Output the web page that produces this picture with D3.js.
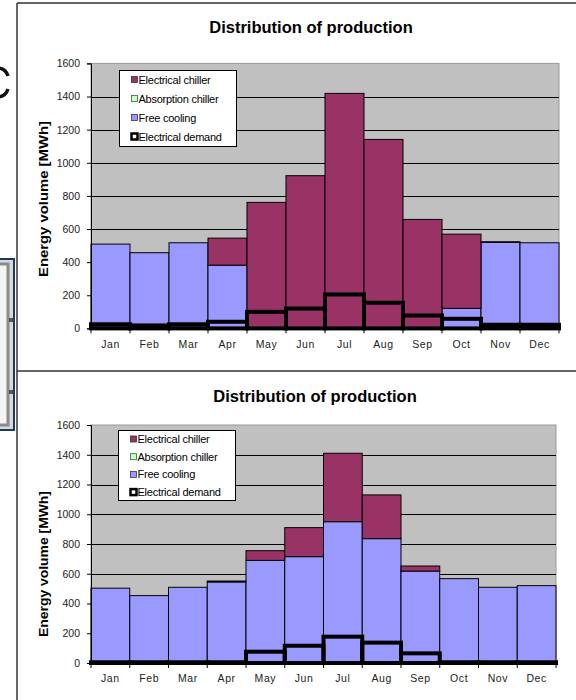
<!DOCTYPE html>
<html>
<head>
<meta charset="utf-8">
<script src="https://cdn.jsdelivr.net/npm/d3@7"></script>
<style>
  html, body { margin: 0; padding: 0; background: #fff; }
  svg { display: block; }
  text { font-family: "Liberation Sans", Arial, sans-serif; }
</style>
</head>
<body>
<svg id="page" width="576" height="700"></svg>
<script>
// Monthly categories
const months = ["Jan", "Feb", "Mar", "Apr", "May", "Jun", "Jul", "Aug", "Sep", "Oct", "Nov", "Dec"];
const yTicks = [0, 200, 400, 600, 800, 1000, 1200, 1400, 1600];
const seriesNames = ["Electrical chiller", "Absorption chiller", "Free cooling", "Electrical demand"];

// Scenario A (upper chart), MWh per month
const aFreeCooling = [509, 457, 517, 382, 0, 0, 0, 0, 0, 121, 520, 517];
const aAbsorption  = [0, 0, 0, 0, 0, 0, 0, 0, 0, 0, 0, 0];
const aElecChiller = [0, 0, 0, 163, 761, 922, 1419, 1141, 658, 448, 3, 0];
const aElecDemand  = [25, 18, 25, 40, 100, 120, 205, 155, 78, 58, 22, 22];

// Scenario B (lower chart), MWh per month
const bFreeCooling = [503, 453, 509, 545, 690, 715, 950, 836, 618, 567, 509, 520];
const bAbsorption  = [0, 0, 0, 0, 0, 0, 0, 0, 0, 0, 0, 0];
const bElecChiller = [0, 0, 0, 6, 65, 195, 460, 294, 34, 0, 0, 0];
const bElecDemand  = [5, 5, 5, 5, 76, 116, 177, 137, 65, 5, 5, 5];

const colors = {
  chiller: "#993366",
  absorption: "#CCFFCC",
  free: "#9999FF",
  plot: "#C0C0C0"
};

const svg = d3.select("#page");

// Fragments of the slide behind the charts
svg.append("path")
  .attr("d", "M 8,76 C 6,70 2,68 -3,68 M 8,89 C 6,95 2,97 -3,97")
  .attr("fill", "none").attr("stroke", "#111").attr("stroke-width", 3.5);
svg.append("rect").attr("x", -4).attr("y", 259).attr("width", 18).attr("height", 171)
  .attr("fill", "#d8d8d8").attr("stroke", "#1d3b5e").attr("stroke-width", 2);
svg.append("rect").attr("x", -4).attr("y", 264).attr("width", 12).attr("height", 161)
  .attr("fill", "#f4f4f4").attr("stroke", "#8a8a8a").attr("stroke-width", 3);
[320, 392].forEach(yy => svg.append("rect").attr("x", 9).attr("y", yy - 2)
  .attr("width", 4).attr("height", 4).attr("fill", "#555"));

// Panel frames
svg.append("g").attr("stroke", "#333").attr("stroke-width", 1.5).attr("fill", "none")
  .selectAll("line")
  .data([[17, 3, 576, 3], [17, 3, 17, 700], [17, 371, 576, 371]])
  .join("line")
  .attr("x1", d => d[0]).attr("y1", d => d[1]).attr("x2", d => d[2]).attr("y2", d => d[3]);

function drawChart(cfg) {
  const g = svg.append("g");
  const x = d3.scaleBand().domain(months).range([cfg.left, cfg.right]).padding(0);
  const y = d3.scaleLinear().domain([0, 1600]).range([cfg.bottom, cfg.top]);

  // Title
  g.append("text").attr("x", cfg.titleX).attr("y", cfg.titleY)
    .attr("text-anchor", "middle").attr("font-size", 16.5).attr("font-weight", "bold")
    .attr("fill", "#000").text("Distribution of production");

  // Plot area and grid
  g.append("rect").attr("x", cfg.left).attr("y", cfg.top)
    .attr("width", cfg.right - cfg.left).attr("height", cfg.bottom - cfg.top)
    .attr("fill", colors.plot).attr("stroke", "#9a9a9a").attr("stroke-width", 1);
  g.append("g").selectAll("line")
    .data(yTicks.filter(v => v > 0 && v < 1600))
    .join("line")
    .attr("x1", cfg.left).attr("x2", cfg.right)
    .attr("y1", d => Math.round(y(d)) + 0.5).attr("y2", d => Math.round(y(d)) + 0.5)
    .attr("stroke", "#000").attr("stroke-width", 1);

  // Stacked production bars: free cooling, absorption chiller, electrical chiller
  const rows = months.map((m, i) => ({
    month: m,
    free: cfg.free[i],
    absorption: cfg.absorption[i],
    chiller: cfg.chiller[i]
  }));
  const keys = ["free", "absorption", "chiller"];
  const stack = d3.stack().keys(keys)(rows);
  g.append("g").selectAll("g")
    .data(stack)
    .join("g")
    .attr("fill", d => colors[d.key])
    .selectAll("rect")
    .data(d => d.filter(p => p[1] > p[0]))
    .join("rect")
    .attr("x", p => x(p.data.month))
    .attr("width", x.bandwidth())
    .attr("y", p => y(p[1]))
    .attr("height", p => y(p[0]) - y(p[1]))
    .attr("stroke", "#000").attr("stroke-width", 1);

  // Electrical demand: outlined bars
  g.append("g").selectAll("rect")
    .data(cfg.demand.map((v, i) => ({ month: months[i], v })))
    .join("rect")
    .attr("x", d => x(d.month))
    .attr("width", x.bandwidth())
    .attr("y", d => y(d.v))
    .attr("height", d => y(0) - y(d.v))
    .attr("fill", "none").attr("stroke", "#000").attr("stroke-width", 4);

  // Y axis
  const yAxis = g.append("g").attr("transform", `translate(${cfg.left},0)`)
    .call(d3.axisLeft(y).tickValues(yTicks).tickSize(4).tickPadding(7).tickFormat(d3.format("d")));
  yAxis.select(".domain").attr("stroke", "#000");
  yAxis.selectAll(".tick line").attr("stroke", "#000");
  yAxis.selectAll("text").attr("font-size", 10.5).attr("fill", "#222")
    .attr("font-family", "'Liberation Sans', Arial, sans-serif");

  // X axis: labels centred in each month, ticks on month boundaries
  const xAxis = g.append("g").attr("transform", `translate(0,${cfg.bottom})`)
    .call(d3.axisBottom(x).tickSize(0).tickPadding(12));
  xAxis.select(".domain").remove();
  xAxis.selectAll("text").attr("font-size", 10.5).attr("fill", "#222")
    .attr("letter-spacing", 0.6)
    .attr("font-family", "'Liberation Sans', Arial, sans-serif");
  g.append("line").attr("x1", cfg.left).attr("x2", cfg.right)
    .attr("y1", cfg.bottom).attr("y2", cfg.bottom).attr("stroke", "#000");
  g.append("g").selectAll("line")
    .data(months.map(m => x(m)).concat([cfg.right]))
    .join("line")
    .attr("x1", d => d).attr("x2", d => d)
    .attr("y1", cfg.bottom).attr("y2", cfg.bottom + 5)
    .attr("stroke", "#000");

  // Y axis title
  g.append("text")
    .attr("transform", `translate(${cfg.yTitleX},${cfg.yTitleY}) rotate(-90)`)
    .attr("text-anchor", "middle").attr("font-size", 12.5).attr("font-weight", "bold")
    .attr("textLength", cfg.yTitleLen).attr("lengthAdjust", "spacingAndGlyphs")
    .attr("fill", "#000").text("Energy volume [MWh]");

  // Legend
  const lg = g.append("g");
  lg.append("rect").attr("x", cfg.legX).attr("y", cfg.legY)
    .attr("width", 117).attr("height", cfg.legH)
    .attr("fill", "#fff").attr("stroke", "#000").attr("stroke-width", 1);
  const legFill = [colors.chiller, colors.absorption, colors.free, "#fff"];
  const legStroke = ["#333", "#336633", "#333366", "#000"];
  const legWidth = [0.8, 0.8, 0.8, 2.5];
  const item = lg.selectAll("g.item")
    .data(seriesNames)
    .join("g").attr("class", "item")
    .attr("transform", (d, i) => `translate(${cfg.legX + 12},${cfg.legY + cfg.legRow0 + i * cfg.legStep})`);
  item.append("rect")
    .attr("x", 0).attr("y", -3).attr("width", 6).attr("height", 6)
    .attr("fill", (d, i) => legFill[i]).attr("stroke", (d, i) => legStroke[i])
    .attr("stroke-width", (d, i) => legWidth[i]);
  item.append("text")
    .attr("x", 7).attr("y", 4).attr("font-size", 11).attr("fill", "#000")
    .attr("letter-spacing", -0.25)
    .text(d => d);
}

drawChart({
  left: 91, right: 559, top: 63.4, bottom: 328.4,
  titleX: 311, titleY: 33,
  yTitleX: 47.5, yTitleY: 199, yTitleLen: 156,
  legX: 119.5, legY: 70.5, legH: 76, legRow0: 9, legStep: 19,
  free: aFreeCooling, absorption: aAbsorption, chiller: aElecChiller, demand: aElecDemand
});

drawChart({
  left: 91, right: 556, top: 425, bottom: 663,
  titleX: 315, titleY: 402,
  yTitleX: 47.5, yTitleY: 564, yTitleLen: 146,
  legX: 118.5, legY: 430.5, legH: 70, legRow0: 8.5, legStep: 17.7,
  free: bFreeCooling, absorption: bAbsorption, chiller: bElecChiller, demand: bElecDemand
});
</script>
</body>
</html>
